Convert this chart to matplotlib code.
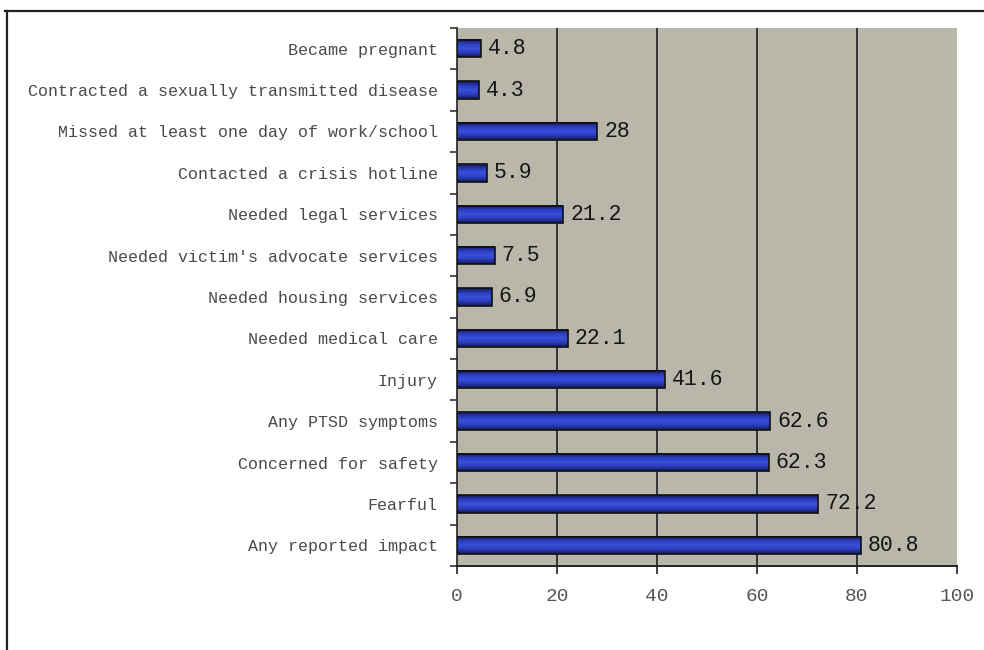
import numpy as np
import matplotlib
matplotlib.use("Agg")
import matplotlib.pyplot as plt
from matplotlib.colors import LinearSegmentedColormap
from matplotlib.lines import Line2D

categories = [
    "Became pregnant",
    "Contracted a sexually transmitted disease",
    "Missed at least one day of work/school",
    "Contacted a crisis hotline",
    "Needed legal services",
    "Needed victim's advocate services",
    "Needed housing services",
    "Needed medical care",
    "Injury",
    "Any PTSD symptoms",
    "Concerned for safety",
    "Fearful",
    "Any reported impact",
]
values = [4.8, 4.3, 28, 5.9, 21.2, 7.5, 6.9, 22.1, 41.6, 62.6, 62.3, 72.2, 80.8]
value_labels = ["4.8", "4.3", "28", "5.9", "21.2", "7.5", "6.9", "22.1",
                "41.6", "62.6", "62.3", "72.2", "80.8"]
xticks = [0, 20, 40, 60, 80, 100]

plt.rcParams['font.family'] = ['Liberation Mono', 'DejaVu Sans Mono']

fig = plt.figure(figsize=(9.84, 6.5), dpi=100)
fig.patch.set_facecolor('white')
ax = fig.add_axes([457 / 984, 84 / 650, 500 / 984, 538 / 650])
ax.set_facecolor('#b8b7aa')

# outer frame (top and left edges only)
fig.add_artist(Line2D([5 / 984, 1.0], [1 - 11 / 650, 1 - 11 / 650],
                      transform=fig.transFigure, color='#222', lw=1.6))
fig.add_artist(Line2D([7 / 984, 7 / 984], [0, 1 - 11 / 650],
                      transform=fig.transFigure, color='#222', lw=1.6))

y = np.arange(len(categories))
h = 0.42

# cylinder-like shading for each bar
shade = LinearSegmentedColormap.from_list(
    'shade', ['#141a5c', '#2a3cb8', '#3a50dc', '#2a3cb8', '#141a5c'])
grad = np.linspace(0, 1, 64).reshape(-1, 1)
for yi, v in zip(y, values):
    ax.imshow(grad, cmap=shade, aspect='auto', interpolation='bilinear',
              extent=(0, v, yi + h / 2, yi - h / 2), zorder=3)
ax.barh(y, values, height=h, facecolor='none', edgecolor='#101010',
        linewidth=1.2, zorder=4)

for yi, v, lab in zip(y, values, value_labels):
    ax.text(v + 1.4, yi, lab, va='center', ha='left', fontsize=15.5,
            color='#151515', zorder=5)

ax.set_xlim(0, 100)
ax.set_ylim(len(categories) - 0.5, -0.5)

for xv in xticks[1:-1]:
    ax.axvline(xv, color='#1e1e1e', lw=1.2, zorder=1)

ax.set_xticks(xticks)
ax.set_xticklabels([str(t) for t in xticks], fontsize=14, color='#555')
ax.set_yticks(y)
ax.set_yticklabels(categories, fontsize=12, color='#4a4a4a')
ax.set_yticks(np.arange(-0.5, len(categories), 1.0), minor=True)
ax.tick_params(axis='y', which='major', length=0, pad=14)
ax.tick_params(axis='y', which='minor', length=5, width=1.2, color='#333',
               direction='out')
ax.tick_params(axis='x', length=6, width=1.2, color='#222', pad=10)

for side in ('top', 'right'):
    ax.spines[side].set_visible(False)
ax.spines['left'].set_color('#222')
ax.spines['left'].set_linewidth(1.2)
ax.spines['bottom'].set_color('#222')
ax.spines['bottom'].set_linewidth(1.4)

fig.savefig('out.png', dpi=100)
